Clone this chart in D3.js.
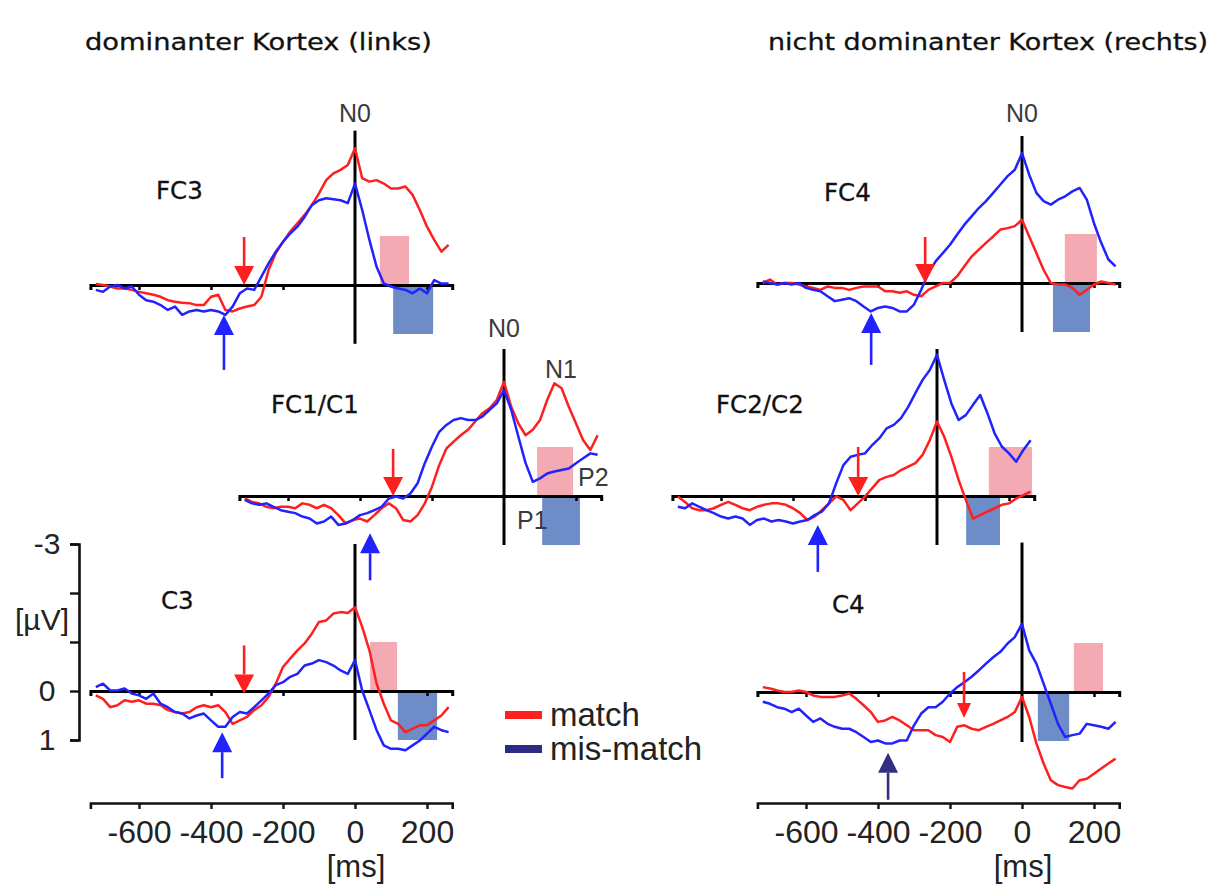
<!DOCTYPE html>
<html>
<head>
<meta charset="utf-8">
<script src="https://cdn.jsdelivr.net/npm/d3@7"></script>
<style>body{margin:0;background:#fff}svg{display:block}</style>
</head>
<body>
<svg id="c" width="1221" height="884"></svg>
<script>
// ---------------- DATA ----------------
const timesMs = [-720,-700,-680,-660,-640,-620,-600,-580,-560,-540,-520,-500,-480,-460,-440,-420,-400,-380,-360,-340,-320,-300,-280,-260,-240,-220,-200,-180,-160,-140,-120,-100,-80,-60,-40,-20,0,20,40,60,80,100,120,140,160,180,200,220,240,260];

const panelNames = ["FC3","FC4","FC1/C1","FC2/C2","C3","C4"];

// µV, negative = up
const fc3Match    = [-0.02,0,0.03,0.07,0.07,0.10,0.14,0.17,0.20,0.24,0.31,0.34,0.36,0.37,0.41,0.41,0.24,0.20,0.51,0.54,0.48,0.44,0.41,0.24,-0.31,-0.65,-0.88,-1.09,-1.26,-1.43,-1.63,-1.87,-2.14,-2.28,-2.35,-2.45,-2.79,-2.18,-2.11,-2.14,-2.07,-1.97,-1.97,-2.01,-1.84,-1.53,-1.19,-0.92,-0.68,-0.82];
const fc3Mismatch = [0.10,0.14,0.03,0,0.07,0.03,0.20,0.31,0.34,0.41,0.51,0.44,0.61,0.54,0.51,0.54,0.51,0.54,0.61,0.44,0.17,0.07,0.10,-0.17,-0.44,-0.68,-0.88,-1.05,-1.19,-1.39,-1.63,-1.73,-1.77,-1.75,-1.73,-1.67,-2.07,-1.53,-0.92,-0.37,-0.03,0.03,0.07,0.10,0.17,0.07,0.17,-0.10,-0.03,-0.03];
const fc4Match    = [0,-0.07,0.03,0,0,0.03,0.07,0.10,0.14,0.07,0.10,0.10,0.14,0.10,0.07,0.07,0.07,0.17,0.17,0.20,0.17,0.24,0.27,0.14,0.07,0,0,-0.14,-0.34,-0.54,-0.68,-0.82,-0.95,-1.09,-1.12,-1.16,-1.29,-0.95,-0.61,-0.27,0,0.03,0.03,0.10,0.24,0.14,0.03,-0.03,0,0.03];
const fc4Mismatch = [-0.03,0,0.03,0,0.03,0,0.10,0.14,0.17,0.27,0.37,0.34,0.31,0.37,0.48,0.58,0.51,0.48,0.51,0.58,0.58,0.44,0.14,-0.20,-0.44,-0.61,-0.78,-0.99,-1.19,-1.36,-1.53,-1.67,-1.84,-2.01,-2.18,-2.31,-2.65,-2.21,-1.84,-1.67,-1.60,-1.70,-1.77,-1.87,-1.94,-1.70,-1.22,-0.82,-0.48,-0.34];
const fc1Match    = [0.05,0.12,0.15,0.22,0.25,0.22,0.22,0.25,0.15,0.18,0.25,0.18,0.25,0.39,0.56,0.49,0.46,0.52,0.39,0.25,0.15,0.25,0.49,0.52,0.39,0.15,-0.19,-0.63,-0.97,-1.11,-1.24,-1.35,-1.52,-1.69,-1.79,-1.96,-2.33,-1.82,-1.48,-1.24,-1.35,-1.55,-1.96,-2.30,-2.20,-1.82,-1.48,-1.14,-0.94,-1.24];
const fc1Mismatch = [0.08,0.15,0.18,0.15,0.22,0.29,0.32,0.35,0.42,0.46,0.56,0.52,0.42,0.59,0.56,0.49,0.39,0.35,0.29,0.22,0.05,0.01,0.05,-0.05,-0.26,-0.67,-1.01,-1.31,-1.45,-1.55,-1.59,-1.55,-1.55,-1.62,-1.76,-1.89,-2.16,-1.76,-1.21,-0.67,-0.29,-0.36,-0.46,-0.50,-0.53,-0.56,-0.67,-0.77,-0.87,-0.84];
const fc2Match    = [0.01,0.12,0.25,0.29,0.29,0.25,0.18,0.12,0.18,0.25,0.29,0.22,0.18,0.15,0.15,0.18,0.25,0.35,0.49,0.42,0.29,0.15,0.01,0.08,0.29,0.15,0.01,-0.16,-0.33,-0.39,-0.43,-0.53,-0.60,-0.67,-0.84,-1.14,-1.52,-1.21,-0.80,-0.33,0.08,0.46,0.39,0.32,0.25,0.18,0.15,0.05,-0.02,-0.09];
const fc2Mismatch = [0.22,0.25,0.15,0.22,0.29,0.35,0.42,0.46,0.42,0.46,0.59,0.49,0.46,0.52,0.49,0.52,0.56,0.52,0.49,0.39,0.32,0.15,-0.26,-0.63,-0.80,-0.84,-0.87,-1.04,-1.18,-1.38,-1.45,-1.59,-1.82,-2.10,-2.37,-2.57,-2.88,-2.37,-1.89,-1.55,-1.65,-1.86,-2.06,-1.69,-1.28,-1.01,-0.87,-0.70,-0.94,-1.14];
const c3Match     = [0.09,0.16,0.33,0.29,0.19,0.22,0.19,0.26,0.26,0.29,0.39,0.43,0.46,0.43,0.33,0.29,0.33,0.29,0.43,0.67,0.60,0.53,0.39,0.29,0.12,-0.15,-0.49,-0.66,-0.83,-0.97,-1.17,-1.41,-1.44,-1.58,-1.61,-1.59,-1.71,-1.31,-0.83,-0.15,0.26,0.60,0.67,0.84,0.77,0.70,0.70,0.60,0.50,0.33];
const c3Mismatch  = [-0.08,-0.15,-0.01,-0.01,-0.05,0.05,0.09,0.16,0.05,0.26,0.33,0.43,0.46,0.56,0.50,0.46,0.60,0.73,0.73,0.53,0.43,0.46,0.33,0.19,0.05,-0.12,-0.18,-0.29,-0.35,-0.52,-0.56,-0.63,-0.59,-0.52,-0.42,-0.35,-0.63,-0.01,0.39,0.80,1.11,1.18,1.18,1.21,1.11,1.01,0.87,0.73,0.80,0.84];
const c4Match     = [-0.10,-0.07,-0.03,0,0,-0.03,0,0.07,0.10,0.10,0.10,0.07,0.03,0.14,0.27,0.41,0.61,0.58,0.51,0.58,0.68,0.78,0.78,0.78,0.88,0.92,1.02,0.71,0.68,0.75,0.78,0.71,0.65,0.58,0.51,0.41,0.10,0.51,1.05,1.46,1.80,1.90,1.94,1.97,1.80,1.77,1.67,1.56,1.46,1.36];
const c4Mismatch  = [0.20,0.24,0.31,0.34,0.41,0.34,0.48,0.61,0.54,0.65,0.71,0.75,0.75,0.82,0.92,1.02,0.99,1.05,1.05,0.99,0.99,0.68,0.44,0.31,0.31,0.20,0.03,-0.10,-0.20,-0.31,-0.44,-0.58,-0.71,-0.82,-0.99,-1.12,-1.39,-0.85,-0.58,-0.17,0.24,0.65,0.92,0.88,0.85,0.65,0.68,0.71,0.75,0.61];

const matchSeries    = [fc3Match, fc4Match, fc1Match, fc2Match, c3Match, c4Match];
const mismatchSeries = [fc3Mismatch, fc4Mismatch, fc1Mismatch, fc2Mismatch, c3Mismatch, c4Mismatch];

// onset arrows: time (ms) and tip amplitude (µV)
const arrowMatchMs     = [-308, -269, -308, -219, -308, -161];
const arrowMatchTip    = [0, 0, 0, 0, 0.05, 0.53];
const arrowMismatchMs  = [-364, -419, -372, -331, -369, -372];
const arrowMismatchTip = [0.61, 0.61, 0.76, 0.59, 0.84, 1.24];

// analysis windows (ms) and their amplitude (µV)
const matchWindows    = [[69,150],[119,208],[92,192],[144,264],[42,117],[144,225]];
const mismatchWindows = [[106,217],[86,189],[106,211],[81,175],[119,228],[44,131]];
const windowAmp = 1;

// extent of the t=0 reference line (µV)
const refLineTop    = [-3.15, -3, -3, -3, -3, -3.05];
const refLineBottom = [1.2, 1, 1, 1, 1, 1.02];

const timeTicks = [-600, -400, -200, 0, 200];
const timeTickLabels = ["-600", "-400", "-200", "0", "200"];
const voltTicks = [-3, -2, -1, 0, 1];
const voltTickLabels = ["-3", "", "", "0", "1"];

const titles = ["dominanter Kortex (links)", "nicht dominanter Kortex (rechts)"];
const legendLabels = ["match", "mis-match"];

// ---------------- LAYOUT / STYLE ----------------
const W = 1221, H = 884;
const PX_MS = 0.36, PX_UV = 49;
const T0 = -735, T1 = 270;
const RED = "#ff1f1f", BLUE = "#2222ff", NAVY = "#2b2a86";
const PINK_FILL = "#f3aab3", BLUE_FILL = "#6d8cc8";
const SANS = "'Liberation Sans', Arial, sans-serif";
const VERD = "'DejaVu Sans', Verdana, sans-serif";

const layout = [
  {x0: 355,  y0: 285, lx: 156, ly: 199},
  {x0: 1022, y0: 283, lx: 824, ly: 201},
  {x0: 504,  y0: 496, lx: 271, ly: 413},
  {x0: 937,  y0: 496, lx: 716, ly: 413},
  {x0: 355,  y0: 691, lx: 161, ly: 609},
  {x0: 1022, y0: 692, lx: 832, ly: 613}
];
const arrowStyle = [
  {mc: RED, bc: BLUE, ml: 48, bl: 55},
  {mc: RED, bc: BLUE, ml: 46, bl: 52},
  {mc: RED, bc: BLUE, ml: 47, bl: 47},
  {mc: RED, bc: BLUE, ml: 49, bl: 47},
  {mc: RED, bc: BLUE, ml: 48, bl: 46},
  {mc: RED, bc: "#342f80", ml: 46, bl: 47}
];

const svg = d3.select("#c");
svg.append("rect").attr("width", W).attr("height", H).attr("fill", "#fff");

function arrow(g, xp, yTip, dir, len, color, head, hw) {
  const yTail = yTip - dir * len;
  const yBase = yTip - dir * head;
  g.append("line").attr("x1", xp).attr("x2", xp).attr("y1", yTail).attr("y2", yBase)
    .attr("stroke", color).attr("stroke-width", 2.6);
  g.append("path").attr("d", `M${xp},${yTip}L${xp - hw},${yBase}L${xp + hw},${yBase}Z`).attr("fill", color);
}

const scales = [];
panelNames.forEach((name, p) => {
  const L = layout[p];
  const x = d3.scaleLinear().domain([T0, T1]).range([L.x0 + T0 * PX_MS, L.x0 + T1 * PX_MS]);
  const y = d3.scaleLinear().domain([-3, 1]).range([L.y0 - 3 * PX_UV, L.y0 + PX_UV]);
  scales.push({x, y});
  const g = svg.append("g");

  // windows
  const mw = matchWindows[p], bw = mismatchWindows[p];
  g.append("rect").attr("x", x(mw[0])).attr("width", x(mw[1]) - x(mw[0]))
    .attr("y", y(-windowAmp)).attr("height", y(0) - y(-windowAmp)).attr("fill", PINK_FILL);
  g.append("rect").attr("x", x(bw[0])).attr("width", x(bw[1]) - x(bw[0]))
    .attr("y", y(0)).attr("height", y(windowAmp) - y(0)).attr("fill", BLUE_FILL);

  // zero line axis
  const ax = d3.axisBottom(x).tickValues([-600, -400, -200, 200]).tickSize(5).tickSizeOuter(5).tickFormat("");
  g.append("g").attr("transform", `translate(0,${y(0)})`).call(ax)
    .call(s => {
      s.select(".domain").attr("stroke", "#000").attr("stroke-width", 3);
      s.selectAll(".tick line").attr("stroke", "#000").attr("stroke-width", 2.5);
    });

  // reference line at t = 0
  g.append("line").attr("x1", x(0)).attr("x2", x(0))
    .attr("y1", y(refLineTop[p])).attr("y2", y(refLineBottom[p]))
    .attr("stroke", "#000").attr("stroke-width", 3);

  // traces
  const line = d3.line().x((d, i) => x(timesMs[i])).y(d => y(d));
  g.append("path").datum(matchSeries[p]).attr("d", line).attr("fill", "none")
    .attr("stroke", RED).attr("stroke-width", 2.5).attr("stroke-linejoin", "round");
  g.append("path").datum(mismatchSeries[p]).attr("d", line).attr("fill", "none")
    .attr("stroke", BLUE).attr("stroke-width", 2.5).attr("stroke-linejoin", "round");

  // arrows
  const A = arrowStyle[p];
  arrow(g, x(arrowMatchMs[p]), y(arrowMatchTip[p]), +1, A.ml, A.mc, p === 5 ? 15 : 19, p === 5 ? 7 : 10);
  arrow(g, x(arrowMismatchMs[p]), y(arrowMismatchTip[p]), -1, A.bl, A.bc, 20, 10);

  // panel label
  g.append("text").attr("x", L.lx).attr("y", L.ly).attr("font-family", VERD)
    .attr("font-size", 24.5).attr("fill", "#111").attr("stroke", "#111").attr("stroke-width", 0.3).text(name);
});

// component labels
const compG = svg.append("g").attr("font-family", SANS).attr("font-size", 25).attr("fill", "#3a3a3a");
[0, 1].forEach(p => {
  compG.append("text").attr("x", scales[p].x(0)).attr("y", 122).attr("text-anchor", "middle").text("N0");
});
compG.append("text").attr("x", scales[2].x(0)).attr("y", 337).attr("text-anchor", "middle").text("N0");
compG.append("text").attr("x", 561).attr("y", 378).attr("text-anchor", "middle").text("N1");
compG.append("text").attr("x", 578).attr("y", 486).text("P2");
compG.append("text").attr("x", 517).attr("y", 529).text("P1");

// bottom time axes (C3, C4)
[4, 5].forEach(p => {
  const x = scales[p].x;
  const ax = d3.axisBottom(x).tickValues(timeTicks).tickSize(6).tickSizeOuter(6).tickPadding(11)
    .tickFormat((d, i) => timeTickLabels[i]);
  svg.append("g").attr("transform", "translate(0,803)").call(ax)
    .call(s => {
      s.select(".domain").attr("stroke", "#111").attr("stroke-width", 2.6);
      s.selectAll(".tick line").attr("stroke", "#111").attr("stroke-width", 2.4);
      s.selectAll(".tick text").attr("font-family", SANS).attr("font-size", 32).attr("fill", "#222");
    });
  svg.append("text").attr("x", x(0) + 1).attr("y", 877).attr("text-anchor", "middle")
    .attr("font-family", SANS).attr("font-size", 31).attr("fill", "#222").text("[ms]");
});

// left voltage axis (C3)
{
  const y = scales[4].y;
  const ay = d3.axisLeft(y).tickValues(voltTicks).tickSize(9).tickSizeOuter(9)
    .tickFormat((d, i) => voltTickLabels[i]);
  svg.append("g").attr("transform", "translate(79,0)").call(ay)
    .call(s => {
      s.select(".domain").attr("stroke", "#111").attr("stroke-width", 2.6);
      s.selectAll(".tick line").attr("stroke", "#111").attr("stroke-width", 2.4);
      s.selectAll(".tick text").attr("font-family", SANS).attr("font-size", 30).attr("fill", "#222")
        .attr("text-anchor", "middle").attr("x", -32);
    });
  svg.append("text").attr("x", 42).attr("y", 630).attr("text-anchor", "middle")
    .attr("font-family", SANS).attr("font-size", 30).attr("fill", "#222").text("[µV]");
}

// titles
svg.append("text").attr("x", 85).attr("y", 50).attr("font-family", VERD).attr("font-size", 23)
  .attr("fill", "#111").attr("stroke", "#111").attr("stroke-width", 0.3)
  .attr("textLength", 347).attr("lengthAdjust", "spacingAndGlyphs").text(titles[0]);
svg.append("text").attr("x", 768).attr("y", 50).attr("font-family", VERD).attr("font-size", 23)
  .attr("fill", "#111").attr("stroke", "#111").attr("stroke-width", 0.3)
  .attr("textLength", 440).attr("lengthAdjust", "spacingAndGlyphs").text(titles[1]);

// legend
const legColors = [RED, NAVY];
const legY = [715, 749];
legendLabels.forEach((lab, i) => {
  svg.append("line").attr("x1", 505).attr("x2", 542).attr("y1", legY[i]).attr("y2", legY[i])
    .attr("stroke", legColors[i]).attr("stroke-width", 8);
  svg.append("text").attr("x", 550).attr("y", legY[i] + 11).attr("font-family", SANS)
    .attr("font-size", 33).attr("fill", "#222").text(lab);
});
</script>
</body>
</html>
